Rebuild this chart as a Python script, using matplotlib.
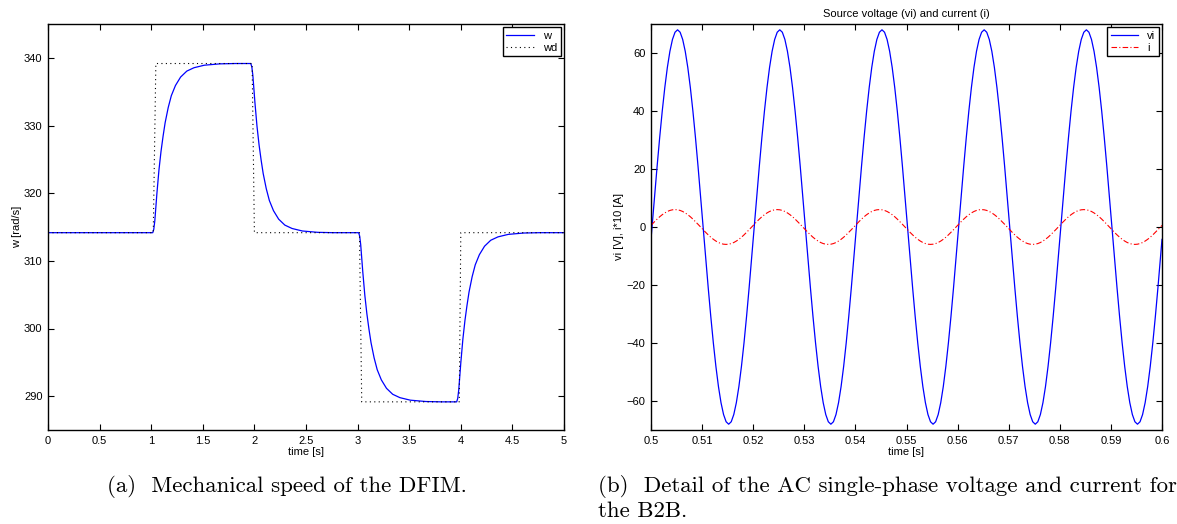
import numpy as np
import matplotlib
matplotlib.use('Agg')
import matplotlib.pyplot as plt

plt.rcParams['font.family'] = ['Liberation Sans', 'DejaVu Sans']

# (a) mechanical speed of the DFIM
wd_time = [0.0, 1.02, 1.045, 1.978, 2.0, 3.018, 3.04, 3.985, 4.0, 5.0]
wd_vals = [314.16, 314.16, 339.16, 339.16, 314.16, 314.16, 289.16, 289.16, 314.16, 314.16]

w_time = [0.0,
          1.015, 1.025, 1.035, 1.045, 1.055, 1.065, 1.075, 1.095, 1.115, 1.135,
          1.165, 1.195, 1.235, 1.285, 1.345, 1.415, 1.515, 1.665, 1.815,
          1.965, 1.975, 1.985, 1.995, 2.005, 2.015, 2.025, 2.045, 2.065, 2.085,
          2.115, 2.145, 2.185, 2.235, 2.295, 2.365, 2.465, 2.615, 2.765,
          3.01, 3.02, 3.03, 3.04, 3.05, 3.06, 3.07, 3.09, 3.11, 3.13,
          3.16, 3.19, 3.23, 3.28, 3.34, 3.41, 3.51, 3.66, 3.81,
          3.96, 3.97, 3.98, 3.99, 4.00, 4.01, 4.02, 4.04, 4.06, 4.08,
          4.11, 4.14, 4.18, 4.23, 4.29, 4.36, 4.46, 4.61, 4.76,
          5.0]
w_vals = [314.16,
          314.16, 314.66, 315.91, 317.91, 319.91, 321.66, 323.41, 326.16, 328.41, 330.41,
          332.66, 334.41, 335.91, 337.16, 338.04, 338.54, 338.91, 339.11, 339.16,
          339.16, 338.66, 337.41, 335.41, 333.41, 331.66, 329.91, 327.16, 324.91, 322.91,
          320.66, 318.91, 317.41, 316.16, 315.28, 314.78, 314.41, 314.21, 314.16,
          314.16, 313.66, 312.41, 310.41, 308.41, 306.66, 304.91, 302.16, 299.91, 297.91,
          295.66, 293.91, 292.41, 291.16, 290.28, 289.78, 289.41, 289.21, 289.16,
          289.16, 289.66, 290.91, 292.91, 294.91, 296.66, 298.41, 301.16, 303.41, 305.41,
          307.66, 309.41, 310.91, 312.16, 313.04, 313.54, 313.91, 314.11, 314.16,
          314.16]

# (b) source voltage and current, sampled every 0.5 ms
vi_time = np.concatenate([[0.5], np.linspace(0.5002, 0.5997, 200), [0.6]])
vi_vals = [-4.27,
           0, 10.64, 21.01, 30.87, 39.97, 48.08, 55.01, 60.59, 64.67, 67.16, 68, 67.16, 64.67, 60.59, 55.01, 48.08, 39.97, 30.87, 21.01, 10.64,
           0, -10.64, -21.01, -30.87, -39.97, -48.08, -55.01, -60.59, -64.67, -67.16, -68, -67.16, -64.67, -60.59, -55.01, -48.08, -39.97, -30.87, -21.01, -10.64,
           0, 10.64, 21.01, 30.87, 39.97, 48.08, 55.01, 60.59, 64.67, 67.16, 68, 67.16, 64.67, 60.59, 55.01, 48.08, 39.97, 30.87, 21.01, 10.64,
           0, -10.64, -21.01, -30.87, -39.97, -48.08, -55.01, -60.59, -64.67, -67.16, -68, -67.16, -64.67, -60.59, -55.01, -48.08, -39.97, -30.87, -21.01, -10.64,
           0, 10.64, 21.01, 30.87, 39.97, 48.08, 55.01, 60.59, 64.67, 67.16, 68, 67.16, 64.67, 60.59, 55.01, 48.08, 39.97, 30.87, 21.01, 10.64,
           0, -10.64, -21.01, -30.87, -39.97, -48.08, -55.01, -60.59, -64.67, -67.16, -68, -67.16, -64.67, -60.59, -55.01, -48.08, -39.97, -30.87, -21.01, -10.64,
           0, 10.64, 21.01, 30.87, 39.97, 48.08, 55.01, 60.59, 64.67, 67.16, 68, 67.16, 64.67, 60.59, 55.01, 48.08, 39.97, 30.87, 21.01, 10.64,
           0, -10.64, -21.01, -30.87, -39.97, -48.08, -55.01, -60.59, -64.67, -67.16, -68, -67.16, -64.67, -60.59, -55.01, -48.08, -39.97, -30.87, -21.01, -10.64,
           0, 10.64, 21.01, 30.87, 39.97, 48.08, 55.01, 60.59, 64.67, 67.16, 68, 67.16, 64.67, 60.59, 55.01, 48.08, 39.97, 30.87, 21.01, 10.64,
           0, -10.64, -21.01, -30.87, -39.97, -48.08, -55.01, -60.59, -64.67, -67.16, -68, -67.16, -64.67, -60.59, -55.01, -48.08, -39.97, -30.87, -21.01, -10.64,
           -4.27]
i_vals = [0.56,
          0.94, 1.85, 2.72, 3.53, 4.24, 4.85, 5.35, 5.71, 5.93, 6.0, 5.93, 5.71, 5.35, 4.85, 4.24, 3.53, 2.72, 1.85, 0.94, 0.0,
          -0.94, -1.85, -2.72, -3.53, -4.24, -4.85, -5.35, -5.71, -5.93, -6.0, -5.93, -5.71, -5.35, -4.85, -4.24, -3.53, -2.72, -1.85, -0.94, 0.0,
          0.94, 1.85, 2.72, 3.53, 4.24, 4.85, 5.35, 5.71, 5.93, 6.0, 5.93, 5.71, 5.35, 4.85, 4.24, 3.53, 2.72, 1.85, 0.94, 0.0,
          -0.94, -1.85, -2.72, -3.53, -4.24, -4.85, -5.35, -5.71, -5.93, -6.0, -5.93, -5.71, -5.35, -4.85, -4.24, -3.53, -2.72, -1.85, -0.94, 0.0,
          0.94, 1.85, 2.72, 3.53, 4.24, 4.85, 5.35, 5.71, 5.93, 6.0, 5.93, 5.71, 5.35, 4.85, 4.24, 3.53, 2.72, 1.85, 0.94, 0.0,
          -0.94, -1.85, -2.72, -3.53, -4.24, -4.85, -5.35, -5.71, -5.93, -6.0, -5.93, -5.71, -5.35, -4.85, -4.24, -3.53, -2.72, -1.85, -0.94, 0.0,
          0.94, 1.85, 2.72, 3.53, 4.24, 4.85, 5.35, 5.71, 5.93, 6.0, 5.93, 5.71, 5.35, 4.85, 4.24, 3.53, 2.72, 1.85, 0.94, 0.0,
          -0.94, -1.85, -2.72, -3.53, -4.24, -4.85, -5.35, -5.71, -5.93, -6.0, -5.93, -5.71, -5.35, -4.85, -4.24, -3.53, -2.72, -1.85, -0.94, 0.0,
          0.94, 1.85, 2.72, 3.53, 4.24, 4.85, 5.35, 5.71, 5.93, 6.0, 5.93, 5.71, 5.35, 4.85, 4.24, 3.53, 2.72, 1.85, 0.94, 0.0,
          -0.94, -1.85, -2.72, -3.53, -4.24, -4.85, -5.35, -5.71, -5.93, -6.0, -5.93, -5.71, -5.35, -4.85, -4.24, -3.53, -2.72, -1.85, -0.94, 0.0,
          0.56]

left_xticks = [0, 0.5, 1, 1.5, 2, 2.5, 3, 3.5, 4, 4.5, 5]
left_xlabels = ['0', '0.5', '1', '1.5', '2', '2.5', '3', '3.5', '4', '4.5', '5']
left_yticks = [290, 300, 310, 320, 330, 340]
right_xticks = [0.5, 0.51, 0.52, 0.53, 0.54, 0.55, 0.56, 0.57, 0.58, 0.59, 0.6]
right_xlabels = ['0.5', '0.51', '0.52', '0.53', '0.54', '0.55', '0.56', '0.57', '0.58', '0.59', '0.6']
right_yticks = [-60, -40, -20, 0, 20, 40, 60]

W, H = 1177, 524
fig = plt.figure(figsize=(W / 100, H / 100), dpi=100)


def box(x0, y0, x1, y1):
    return [x0 / W, 1 - y1 / H, (x1 - x0) / W, (y1 - y0) / H]


def style_axes(ax):
    ax.tick_params(direction='in', top=True, right=True, length=4, width=0.8,
                   labelsize=8, pad=4)
    for s in ax.spines.values():
        s.set_linewidth(1.0)


ax1 = fig.add_axes(box(48, 24, 564, 430))
ax1.plot(w_time, w_vals, color='#0000ff', lw=0.9, label='w')
ax1.plot(wd_time, wd_vals, color='black', lw=0.8, dashes=(1, 3), label='wd')
ax1.set_xlim(0, 5)
ax1.set_ylim(285, 345)
ax1.set_xticks(left_xticks)
ax1.set_xticklabels(left_xlabels)
ax1.set_yticks(left_yticks)
ax1.set_xlabel('time [s]', fontsize=8, labelpad=1)
ax1.set_ylabel('w [rad/s]', fontsize=8, labelpad=1)
style_axes(ax1)
leg1 = ax1.legend(loc='upper right', fontsize=8, fancybox=False, framealpha=1,
                  edgecolor='black', handlelength=2.5, borderaxespad=0.3,
                  borderpad=0.3, labelspacing=0.2)
leg1.get_frame().set_linewidth(1.0)

ax2 = fig.add_axes(box(651, 24, 1162, 430))
ax2.plot(vi_time, vi_vals, color='#0000ff', lw=0.9, label='vi')
ax2.plot(vi_time, i_vals, color='#ff0000', lw=0.8, dashes=(5, 2, 1, 2), label='i')
ax2.set_xlim(0.5, 0.6)
ax2.set_ylim(-70, 70)
ax2.set_xticks(right_xticks)
ax2.set_xticklabels(right_xlabels)
ax2.set_yticks(right_yticks)
ax2.set_xlabel('time [s]', fontsize=8, labelpad=1)
ax2.set_ylabel('vi [V], i*10 [A]', fontsize=8, labelpad=2)
ax2.set_title('Source voltage (vi) and current (i)', fontsize=8, pad=5)
style_axes(ax2)
leg2 = ax2.legend(loc='upper right', fontsize=8, fancybox=False, framealpha=1,
                  edgecolor='black', handlelength=2.5, borderaxespad=0.3,
                  borderpad=0.3, labelspacing=0.2)
leg2.get_frame().set_linewidth(1.0)

# captions in a serif face
fig.text(287 / W, 1 - 487 / H, '(a)  Mechanical speed of the DFIM.', family='cmr10',
         fontsize=16.5, ha='center', va='center')
fig.text(598 / W, 1 - 487 / H, '(b)  Detail of the AC single-phase voltage and current for',
         family='cmr10', fontsize=16.5, ha='left', va='center')
fig.text(598 / W, 1 - 511 / H, 'the B2B.', family='cmr10', fontsize=16.5,
         ha='left', va='center')

fig.savefig('out.png', dpi=100)
